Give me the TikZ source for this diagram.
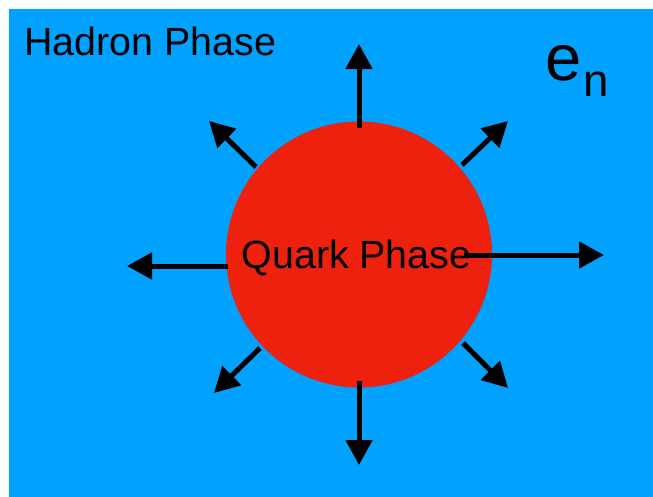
\documentclass[tikz,border=0pt]{standalone}
\usepackage{fontspec}
\setmainfont{Liberation Sans}
\usetikzlibrary{arrows.meta}
\usetikzlibrary{positioning}
\definecolor{hadronblue}{RGB}{0,161,255}
\definecolor{quarkred}{RGB}{238,33,14}
\tikzstyle{phase}=[inner sep=0pt, font=\fontsize{22.4}{24}\selectfont]
\tikzstyle{myarrow}=[-{Triangle[length=5mm,width=5.2mm]}, line width=1mm]

\begin{document}
\begin{tikzpicture}[x=0.2mm, y=-0.2mm]
    \useasboundingbox (0,0) rectangle (653,497);
    \fill[hadronblue] (9,9) rectangle (653,497);

    \node[circle, fill=quarkred, minimum size=53.2mm, inner sep=0pt] (quark) at (359,254.5) {};

    \node[phase, anchor=base west] (hadron) at (24,55) {Hadron Phase};
    \node[phase, anchor=base] (quarklabel) at (356.5,268) {Quark Phase};
    \node[inner sep=0pt, anchor=base west] (en) at (545,80)
        {\fontsize{37}{40}\selectfont e\kern1pt\lower9.6pt\hbox{\fontsize{26}{28}\selectfont n}};

    % start and end of every arrow
    \coordinate (up0) at (359,128);   \coordinate (up1) at (359,44);
    \coordinate (dn0) at (359,381);   \coordinate (dn1) at (359,465);
    \coordinate (lt0) at (228,266);   \coordinate (lt1) at (127,266);
    \coordinate (rt0) at (464,255);   \coordinate (rt1) at (604,255);
    \coordinate (ul0) at (256,167);   \coordinate (ul1) at (209,121);
    \coordinate (ur0) at (462,165);   \coordinate (ur1) at (508,121);
    \coordinate (dl0) at (260,348);   \coordinate (dl1) at (214,393);
    \coordinate (dr0) at (463,343);   \coordinate (dr1) at (508,388);

    \draw[myarrow] (up0) -- (up1) ;
    \draw[myarrow] (dn0) -- (dn1) ;
    \draw[myarrow] (lt0) -- (lt1) ;
    \draw[myarrow] (rt0) -- (rt1) ;
    \draw[myarrow] (ul0) -- (ul1) ;
    \draw[myarrow] (ur0) -- (ur1) ;
    \draw[myarrow] (dl0) -- (dl1) ;
    \draw[myarrow] (dr0) -- (dr1) ;
\end{tikzpicture}
\end{document}
